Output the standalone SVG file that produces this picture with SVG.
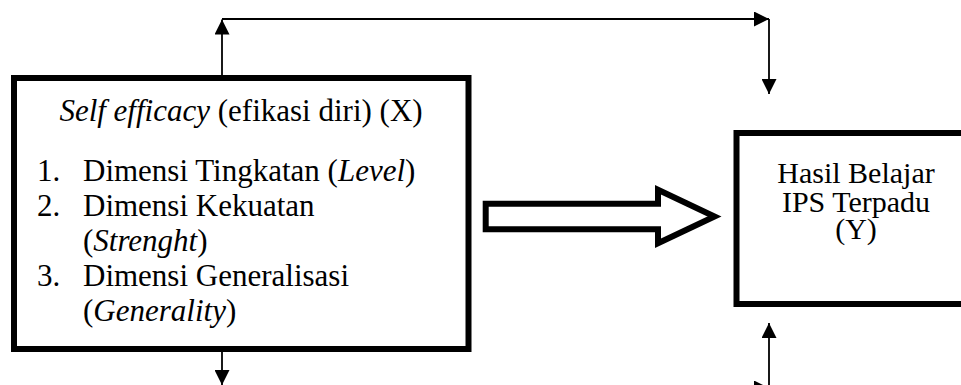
<svg xmlns="http://www.w3.org/2000/svg" width="961" height="385" viewBox="0 0 961 385">
<style>
.box{fill:#fff;stroke:#000;stroke-width:6}
.t{font-family:"Liberation Serif","Times New Roman",serif;fill:#000}
.l{font-size:31px}
.r{font-size:30px}
.it{font-style:italic}
.c{stroke:#000;stroke-width:1.8;fill:none}
</style>
<defs>
<marker id="ah" markerUnits="userSpaceOnUse" markerWidth="15" markerHeight="15" refX="15" refY="7.5" orient="auto">
<path d="M0,0 L15,7.5 L0,15 Z" fill="#000"/>
</marker>
</defs>
<rect width="961" height="385" fill="#fff"/>
<g id="connectors">
<line class="c" x1="222" y1="76" x2="222" y2="19.5" marker-end="url(#ah)"/>
<line class="c" x1="222" y1="19" x2="769" y2="19" marker-end="url(#ah)"/>
<line class="c" x1="769" y1="19" x2="769" y2="94" marker-end="url(#ah)"/>
<line class="c" x1="222" y1="352" x2="222" y2="385" marker-end="url(#ah)"/>
<line class="c" x1="222" y1="388" x2="769" y2="388" marker-end="url(#ah)"/>
<line class="c" x1="769" y1="388" x2="769" y2="323" marker-end="url(#ah)"/>
<path d="M485.7,203.7 H658 V189.7 L714.5,216.5 L658,243.3 V229.3 H485.7 Z" fill="#fff" stroke="#000" stroke-width="6" stroke-miterlimit="10"/>
</g>
<g id="node-x">
<rect class="box" x="14" y="78" width="454.5" height="271"/>
<text class="t l" x="241" y="121" text-anchor="middle"><tspan class="it">Self efficacy</tspan> (efikasi diri) (X)</text>
<text class="t l" x="37" y="181">1.</text>
<text class="t l" x="83" y="181">Dimensi Tingkatan (<tspan class="it">Level</tspan>)</text>
<text class="t l" x="37" y="216">2.</text>
<text class="t l" x="83" y="216">Dimensi Kekuatan</text>
<text class="t l" x="83" y="251">(<tspan class="it">Strenght</tspan>)</text>
<text class="t l" x="37" y="286">3.</text>
<text class="t l" x="83" y="286">Dimensi Generalisasi</text>
<text class="t l" x="83" y="321">(<tspan class="it">Generality</tspan>)</text>
</g>
<g id="node-y">
<rect class="box" x="736.5" y="133" width="240" height="171"/>
<text class="t r" x="856" y="183" text-anchor="middle">Hasil Belajar</text>
<text class="t r" x="856" y="211.5" text-anchor="middle">IPS Terpadu</text>
<text class="t r" x="856" y="239" text-anchor="middle">(Y)</text>
</g>
</svg>
